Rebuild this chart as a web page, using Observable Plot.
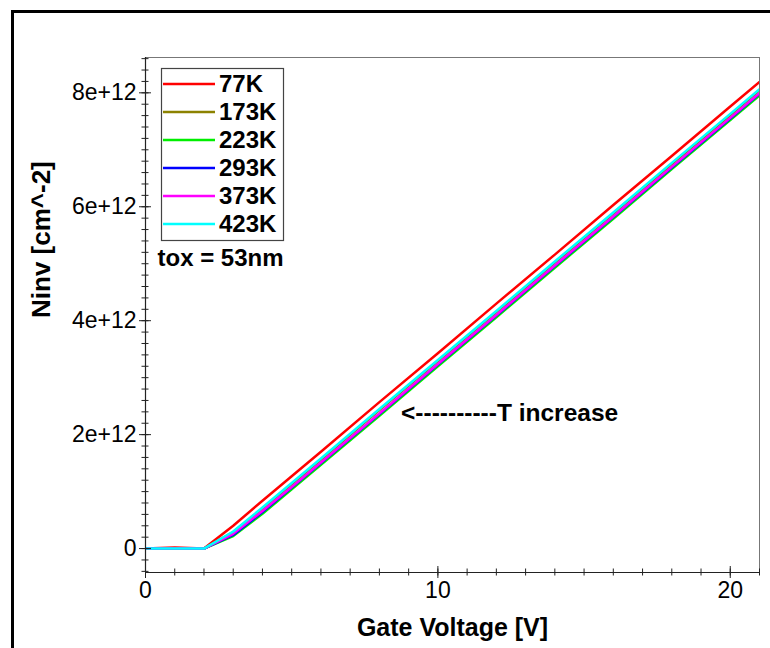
<!DOCTYPE html>
<html>
<head>
<meta charset="utf-8">
<script src="https://cdn.jsdelivr.net/npm/d3@7"></script>
<script src="https://cdn.jsdelivr.net/npm/@observablehq/plot@0.6"></script>
<style>
  html, body { margin: 0; padding: 0; background: white; }
  #wrap { position: relative; width: 770px; height: 648px; overflow: hidden; background: white; }
  #border { position: absolute; left: 11px; top: 10px; width: 900px; height: 900px; border: 3px solid #000; pointer-events: none; }
</style>
</head>
<body>
<div id="wrap"><div id="border"></div></div>
<script>
// Gate voltage samples [V]
const gateVoltage = [0, 1, 2, 3, 4, 5, 6, 8, 10, 12, 14, 16, 18, 20, 22];
// Ninv [cm^-2] per temperature
const n77K  = [0, 0.02e12, 0, 0.40e12, 0.84e12, 1.27e12, 1.70e12, 2.57e12, 3.43e12, 4.30e12, 5.16e12, 6.03e12, 6.89e12, 7.76e12, 8.62e12];
const n173K = [0, 0, 0, 0.29e12, 0.70e12, 1.13e12, 1.56e12, 2.43e12, 3.29e12, 4.15e12, 5.02e12, 5.88e12, 6.75e12, 7.61e12, 8.48e12];
const n223K = [0, 0, 0, 0.22e12, 0.61e12, 1.04e12, 1.47e12, 2.33e12, 3.20e12, 4.06e12, 4.93e12, 5.79e12, 6.66e12, 7.52e12, 8.39e12];
const n293K = [0, 0, 0, 0.24e12, 0.64e12, 1.07e12, 1.50e12, 2.36e12, 3.23e12, 4.09e12, 4.96e12, 5.82e12, 6.69e12, 7.55e12, 8.42e12];
const n373K = [0, 0, 0, 0.26e12, 0.66e12, 1.08e12, 1.51e12, 2.37e12, 3.24e12, 4.10e12, 4.97e12, 5.83e12, 6.70e12, 7.56e12, 8.43e12];
const n423K = [0, 0, 0, 0.30e12, 0.72e12, 1.15e12, 1.58e12, 2.45e12, 3.31e12, 4.17e12, 5.04e12, 5.90e12, 6.77e12, 7.63e12, 8.50e12];

const seriesNames  = ["77K", "173K", "223K", "293K", "373K", "423K"];
const seriesValues = [n77K, n173K, n223K, n293K, n373K, n423K];
const seriesColors = ["#ff0000", "#8c8200", "#00ee00", "#0000ff", "#ff00ff", "#00ffff"];

const xMajorTicks = [0, 10, 20];
const xMinorTicks = [0,1,2,3,4,5,6,7,8,9,10,11,12,13,14,15,16,17,18,19,20,21];
const yMajorTicks = [0, 2e12, 4e12, 6e12, 8e12];
const yMinorTicks = [-0.4e12,-0.2e12,0,0.2e12,0.4e12,0.6e12,0.8e12,1e12,1.2e12,1.4e12,1.6e12,1.8e12,2e12,2.2e12,2.4e12,2.6e12,2.8e12,3e12,3.2e12,3.4e12,3.6e12,3.8e12,4e12,4.2e12,4.4e12,4.6e12,4.8e12,5e12,5.2e12,5.4e12,5.6e12,5.8e12,6e12,6.2e12,6.4e12,6.6e12,6.8e12,7e12,7.2e12,7.4e12,7.6e12,7.8e12,8e12,8.2e12,8.4e12,8.6e12];

const annotations = [{x: 8.74, y: 2.37e12, text: "<----------T increase"}];

const data = [];
seriesNames.forEach((name, i) => {
  gateVoltage.forEach((v, j) => data.push({series: name, v, n: seriesValues[i][j]}));
});

const fmt = d => d === 0 ? "0" : d.toExponential().replace(/\.0+e/, "e");

const plot = Plot.plot({
  width: 770,
  height: 648,
  marginLeft: 145,
  marginRight: 11,
  marginTop: 57,
  marginBottom: 76,
  style: {fontFamily: "'Liberation Sans', Arial, sans-serif", fontSize: "23px", background: "transparent", color: "#000"},
  x: {domain: [0, 21]},
  y: {domain: [-0.42e12, 8.62e12]},
  color: {domain: seriesNames, range: seriesColors},
  marks: [
    Plot.frame({stroke: "#777"}),
    Plot.line(data, {x: "v", y: "n", z: "series", stroke: "series", strokeWidth: 2.5, clip: true}),
    // x axis
    Plot.ruleY([-0.42e12], {stroke: "#222", strokeWidth: 1.2}),
    Plot.axisX({ticks: xMinorTicks, tickSize: 7, dy: -3.5, text: null, stroke: "#222"}),
    Plot.axisX({ticks: xMajorTicks, tickSize: 12, dy: -6, text: null, stroke: "#222"}),
    Plot.axisX({ticks: xMajorTicks, tickSize: 0, tickPadding: 9, fontSize: 23, tickFormat: d => String(d)}),
    // y axis
    Plot.ruleX([0], {stroke: "#222", strokeWidth: 1.2}),
    Plot.axisY({ticks: yMinorTicks, tickSize: 7, dx: 3.5, text: null, stroke: "#222"}),
    Plot.axisY({ticks: yMajorTicks, tickSize: 12, dx: 6, text: null, stroke: "#222"}),
    Plot.axisY({ticks: yMajorTicks, tickSize: 0, tickPadding: 9, fontSize: 23, tickFormat: fmt}),
    // axis labels
    Plot.text(["Gate Voltage [V]"], {frameAnchor: "bottom", dy: 55, fontSize: 25, fontWeight: "bold", lineAnchor: "middle"}),
    Plot.text(["Ninv [cm^-2]"], {frameAnchor: "left", dx: -104, dy: 3, rotate: -90, fontSize: 26, fontWeight: "bold", lineAnchor: "middle"}),
    Plot.text(["tox = 53nm"], {frameAnchor: "top-left", dx: 12, dy: 201, textAnchor: "start", lineAnchor: "middle", fontSize: 24, fontWeight: "bold"}),
    Plot.text(annotations, {x: "x", y: "y", text: "text", textAnchor: "start", lineAnchor: "middle", fontSize: 24.5, fontWeight: "bold"})
  ]
});

// legend drawn into the same SVG
const svg = d3.select(plot);
const lg = svg.append("g").attr("font-family", "'Liberation Sans', Arial, sans-serif").attr("text-anchor", "start");
lg.append("rect").attr("x", 161.5).attr("y", 68.5).attr("width", 122).attr("height", 172)
  .attr("fill", "white").attr("stroke", "#444").attr("stroke-width", 1.2);
seriesNames.forEach((name, i) => {
  const y = 84 + i * 28;
  lg.append("line").attr("x1", 163).attr("x2", 215).attr("y1", y).attr("y2", y)
    .attr("stroke", seriesColors[i]).attr("stroke-width", 2.5);
  lg.append("text").attr("x", 219).attr("y", y).attr("dy", "0.35em").attr("text-anchor", "start")
    .attr("font-size", 24).attr("font-weight", "bold").attr("fill", "#000").text(name);
});

document.getElementById("wrap").insertBefore(plot, document.getElementById("border"));
plot.style.position = "absolute";
plot.style.left = "0px";
plot.style.top = "0px";
</script>
</body>
</html>
